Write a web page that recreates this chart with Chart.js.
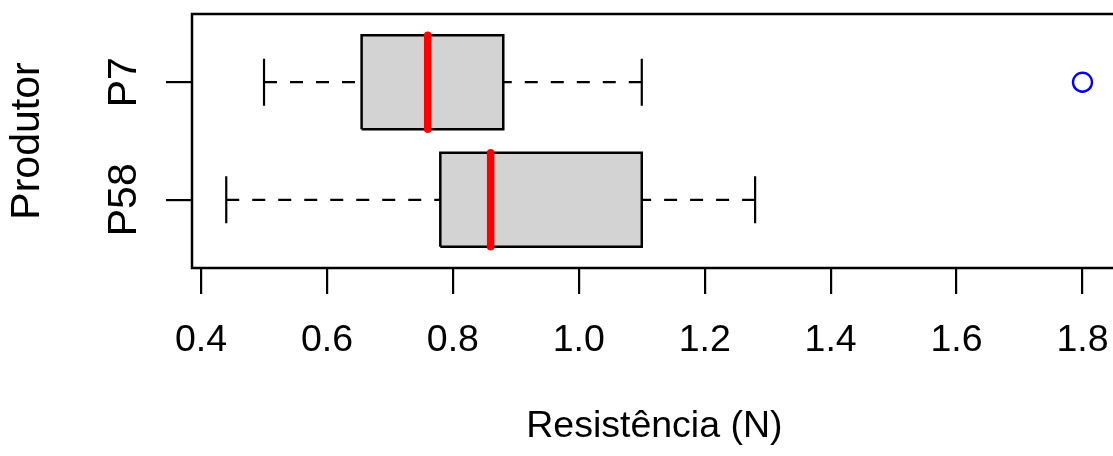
<!DOCTYPE html>
<html lang="pt">
<head>
<meta charset="utf-8">
<title>Resistência por produtor</title>
<script src="https://cdn.jsdelivr.net/npm/chart.js@4.4.1/dist/chart.umd.min.js"></script>
<style>
  html, body { margin: 0; padding: 0; background: #fff; overflow: hidden; }
  #wrap { width: 1113px; height: 456px; overflow: hidden; }
  canvas { display: block; }
</style>
</head>
<body>
<div id="wrap"><canvas id="box-chart" width="1133" height="456"></canvas></div>
<script>
'use strict';

// produtores de baixo para cima (posição 1 = P58, posição 2 = P7)
const produtores = ['P58', 'P7'];
const minimo     = [0.44, 0.50];
const quartil1   = [0.78, 0.655];
const mediana    = [0.86, 0.76];
const quartil3   = [1.10, 0.88];
const maximo     = [1.28, 1.10];
const atipicos   = [[], [1.80]];

const xTicks  = [0.4, 0.6, 0.8, 1.0, 1.2, 1.4, 1.6, 1.8];
const yTicks  = [1, 2];
const xLimits = [0.3856, 1.8544];
const yLimits = [0.42, 2.58];

const FONT     = '"Liberation Sans", Arial, Helvetica, sans-serif';
const X_SIZE   = 37.5;
const Y_SIZE   = 41;
const BOX_HALF = 0.4;
const CAP_HALF = 0.2;

function seg(x1, y1, x2, y2) {
  return [{ x: x1, y: y1 }, { x: x2, y: y2 }];
}

function buildDatasets() {
  const sets = [];

  produtores.forEach((p, i) => {
    const y = yTicks[i];

    sets.push({
      label: `${p} caixa`,
      data: [
        { x: quartil1[i], y: y - BOX_HALF },
        { x: quartil3[i], y: y - BOX_HALF },
        { x: quartil3[i], y: y + BOX_HALF },
        { x: quartil1[i], y: y + BOX_HALF },
        { x: quartil1[i], y: y - BOX_HALF },
      ],
      showLine: true,
      fill: 'shape',
      backgroundColor: '#d3d3d3',
      borderColor: '#000',
      borderWidth: 2.5,
      borderJoinStyle: 'miter',
      pointRadius: 0,
      order: 3,
    });

    const whisker = {
      showLine: true,
      borderColor: '#000',
      borderWidth: 2.2,
      borderDash: [13, 13],
      pointRadius: 0,
      order: 2,
    };
    sets.push({ ...whisker, label: `${p} bigode inf`, data: seg(minimo[i], y, quartil1[i], y) });
    sets.push({ ...whisker, label: `${p} bigode sup`, data: seg(maximo[i], y, quartil3[i], y) });

    const cap = {
      showLine: true,
      borderColor: '#000',
      borderWidth: 2.2,
      pointRadius: 0,
      order: 2,
    };
    sets.push({ ...cap, label: `${p} min`, data: seg(minimo[i], y - CAP_HALF, minimo[i], y + CAP_HALF) });
    sets.push({ ...cap, label: `${p} max`, data: seg(maximo[i], y - CAP_HALF, maximo[i], y + CAP_HALF) });

    sets.push({
      label: `${p} mediana`,
      data: seg(mediana[i], y - BOX_HALF, mediana[i], y + BOX_HALF),
      showLine: true,
      borderColor: '#ff0000',
      borderWidth: 7.5,
      borderCapStyle: 'round',
      pointRadius: 0,
      order: 1,
    });

    if (atipicos[i].length) {
      sets.push({
        label: `${p} atípicos`,
        data: atipicos[i].map(v => ({ x: v, y })),
        showLine: false,
        pointStyle: 'circle',
        pointRadius: 9.5,
        pointBorderWidth: 2.4,
        pointBorderColor: '#0000ff',
        pointBackgroundColor: 'rgba(0,0,0,0)',
        order: 0,
      });
    }
  });

  return sets;
}

// moldura do painel + rótulos verticais dos produtores (estilo R)
const framePlugin = {
  id: 'frame',
  afterDatasetsDraw(chart) {
    const { ctx, chartArea: a } = chart;
    ctx.save();
    ctx.strokeStyle = '#000';
    ctx.lineWidth = 2.5;
    ctx.strokeRect(a.left, a.top, a.right - a.left, a.bottom - a.top);
    ctx.restore();
  },
  afterDraw(chart) {
    const { ctx, chartArea: a } = chart;
    const yScale = chart.scales.y;
    ctx.save();
    ctx.fillStyle = '#000';
    ctx.font = `${Y_SIZE}px ${FONT}`;
    ctx.textAlign = 'center';
    ctx.textBaseline = 'alphabetic';
    produtores.forEach((p, i) => {
      ctx.save();
      ctx.translate(a.left - 56, yScale.getPixelForValue(yTicks[i]));
      ctx.rotate(-Math.PI / 2);
      ctx.fillText(p, 0, 0);
      ctx.restore();
    });
    ctx.restore();
  },
};

(function main() {
  const ctx = document.getElementById('box-chart').getContext('2d');

  new Chart(ctx, {
    type: 'scatter',
    data: { datasets: buildDatasets() },
    options: {
      responsive: false,
      animation: false,
      events: [],
      layout: { padding: { top: 14, right: 8, left: 0, bottom: 0 } },
      plugins: {
        legend:  { display: false },
        tooltip: { enabled: false },
      },
      scales: {
        x: {
          type: 'linear',
          min: xLimits[0],
          max: xLimits[1],
          afterBuildTicks: s => { s.ticks = xTicks.map(v => ({ value: v })); },
          ticks: {
            color: '#000',
            font: { family: FONT, size: X_SIZE, lineHeight: 1.2 },
            padding: 24,
            maxRotation: 0,
            callback: v => v.toFixed(1),
          },
          grid: {
            drawOnChartArea: false,
            drawTicks: true,
            tickLength: 26,
            color: '#000',
            lineWidth: 2.2,
          },
          border: { display: false },
          title: {
            display: true,
            text: 'Resistência (N)',
            color: '#000',
            font: { family: FONT, size: X_SIZE, lineHeight: 1.2 },
            padding: { top: 17, bottom: 7 },
          },
        },
        y: {
          type: 'linear',
          min: yLimits[0],
          max: yLimits[1],
          afterBuildTicks: s => { s.ticks = yTicks.map(v => ({ value: v })); },
          ticks: { display: false },
          grid: {
            drawOnChartArea: false,
            drawTicks: true,
            tickLength: 26,
            color: '#000',
            lineWidth: 2.2,
          },
          border: { display: false },
          title: {
            display: true,
            text: 'Produtor',
            color: '#000',
            font: { family: FONT, size: Y_SIZE, lineHeight: 1.2 },
            padding: { top: 3, bottom: 113.8 },
          },
        },
      },
    },
    plugins: [framePlugin],
  });
})();
</script>
</body>
</html>
